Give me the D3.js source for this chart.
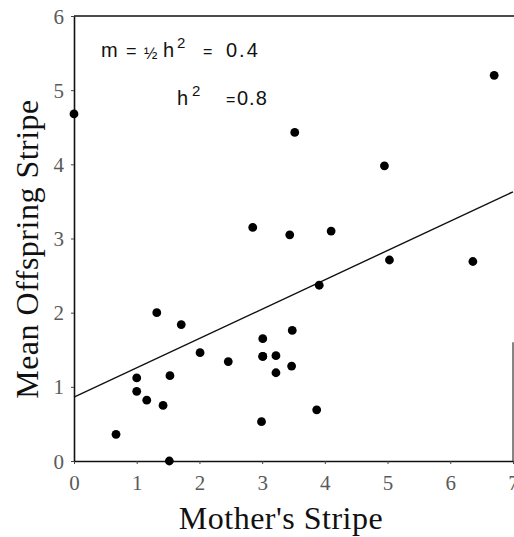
<!DOCTYPE html>
<html>
<head>
<meta charset="utf-8">
<script src="https://cdn.jsdelivr.net/npm/d3@7"></script>
<style>
  html, body { margin: 0; padding: 0; background: #fff; }
  svg { display: block; }
</style>
</head>
<body>
<div id="chart"></div>
<script>
// mother's stripe vs mean offspring stripe
const motherStripe = [0, 0.67, 1.0, 1.0, 1.16, 1.32, 1.42, 1.52, 1.53, 1.71, 2.01, 2.46, 2.85,
  2.99, 3.01, 3.01, 3.01, 3.22, 3.22, 3.44, 3.47, 3.48, 3.52, 3.87, 3.91, 4.10, 4.95, 5.03, 6.36, 6.70];
const offspringStripe = [4.68, 0.36, 1.12, 0.94, 0.82, 2.00, 0.75, 0.0, 1.15, 1.84, 1.46, 1.34, 3.15,
  0.53, 1.65, 1.41, 1.41, 1.42, 1.19, 3.05, 1.28, 1.76, 4.43, 0.69, 2.37, 3.10, 3.98, 2.71, 2.69, 5.20];

// fitted line ends
const fitX = [0, 7];
const fitY = [0.86, 3.63];

const xTicks = [0, 1, 2, 3, 4, 5, 6, 7];
const yTicks = [0, 1, 2, 3, 4, 5, 6];

const margin = { top: 16, right: 1, bottom: 76, left: 74 },
    width = 514 - margin.left - margin.right,
    height = 537 - margin.top - margin.bottom;

const points = motherStripe.map((m, i) => ({ x: m, y: offspringStripe[i] }));

const svg = d3.select("#chart")
    .append("svg")
    .attr("width", 514)
    .attr("height", 537)
    .append("g")
    .attr("transform", "translate(" + margin.left + "," + margin.top + ")");

const x = d3.scaleLinear().domain([0, 7]).range([0, width]);
const y = d3.scaleLinear().domain([0, 6]).range([height, 0]);

const serif = "'Liberation Serif', 'DejaVu Serif', serif";

// axes
const xAxis = svg.append("g")
    .attr("transform", "translate(0," + height + ")")
    .call(d3.axisBottom(x).tickValues(xTicks).tickFormat(d3.format("d")).tickSize(3).tickSizeOuter(0));
const yAxis = svg.append("g")
    .call(d3.axisLeft(y).tickValues(yTicks).tickFormat(d3.format("d")).tickSize(3).tickSizeOuter(0));

[xAxis, yAxis].forEach(a => {
    a.select(".domain").attr("stroke", "#111").attr("stroke-width", 1.6);
    a.selectAll(".tick line").attr("stroke", "#444");
    a.selectAll("text")
        .style("font-family", serif)
        .style("font-size", "21px")
        .attr("fill", "#5a5a5a");
});
xAxis.selectAll("text").attr("dy", null).attr("y", 29);
yAxis.selectAll("text").attr("x", -10).attr("dy", "0.34em");

// frame: top edge and the part of the right edge that shows
svg.append("line")
    .attr("x1", x(0)).attr("x2", x(7) + 1)
    .attr("y1", y(6)).attr("y2", y(6))
    .attr("stroke", "#111").attr("stroke-width", 1.6);
svg.append("line")
    .attr("x1", x(7)).attr("x2", x(7))
    .attr("y1", y(1.6)).attr("y2", y(0))
    .attr("stroke", "#333").attr("stroke-width", 1.2);

// regression line
svg.append("line")
    .attr("x1", x(fitX[0])).attr("y1", y(fitY[0]))
    .attr("x2", x(fitX[1])).attr("y2", y(fitY[1]))
    .attr("stroke", "#111")
    .attr("stroke-width", 1.4);

svg.selectAll("circle.pt")
    .data(points)
    .enter()
    .append("circle")
    .attr("class", "pt")
    .attr("cx", d => x(d.x))
    .attr("cy", d => y(d.y))
    .attr("r", 4.4)
    .attr("fill", "#000");

// annotations, laid out piece by piece like the typeset original
const sans = "'Liberation Sans', Arial, sans-serif";
const ann = svg.append("g")
    .attr("transform", "translate(" + (-margin.left) + "," + (-margin.top) + ")")
    .style("font-family", sans)
    .attr("fill", "#111");

const pieces = [
    { t: "m", x: 101, y: 57, s: 20 },
    { t: "=", x: 126, y: 57, s: 18 },
    { t: "½", x: 144, y: 59, s: 16 },
    { t: "h", x: 163, y: 57, s: 20 },
    { t: "2", x: 177, y: 48, s: 15 },
    { t: "=", x: 203, y: 57, s: 16 },
    { t: "0.4", x: 226, y: 57, s: 20, ls: 2 },
    { t: "h", x: 177, y: 105, s: 20 },
    { t: "2", x: 192, y: 96, s: 15 },
    { t: "=", x: 226, y: 105, s: 16 },
    { t: "0.8", x: 237, y: 105, s: 20, ls: 1 }
];
ann.selectAll("text")
    .data(pieces)
    .enter()
    .append("text")
    .attr("x", d => d.x)
    .attr("y", d => d.y)
    .style("font-size", d => d.s + "px")
    .style("letter-spacing", d => (d.ls || 0) + "px")
    .text(d => d.t);

// axis titles
svg.append("text")
    .attr("x", 281 - margin.left)
    .attr("y", 529 - margin.top)
    .attr("text-anchor", "middle")
    .style("font-family", serif)
    .style("font-size", "32px")
    .style("letter-spacing", "0.5px")
    .attr("fill", "#111")
    .text("Mother's Stripe");

svg.append("text")
    .attr("transform", "rotate(-90)")
    .attr("x", -(249 - margin.top))
    .attr("y", 38 - margin.left)
    .attr("text-anchor", "middle")
    .style("font-family", serif)
    .style("font-size", "32px")
    .style("letter-spacing", "0.5px")
    .attr("fill", "#111")
    .text("Mean Offspring Stripe");
</script>
</body>
</html>
